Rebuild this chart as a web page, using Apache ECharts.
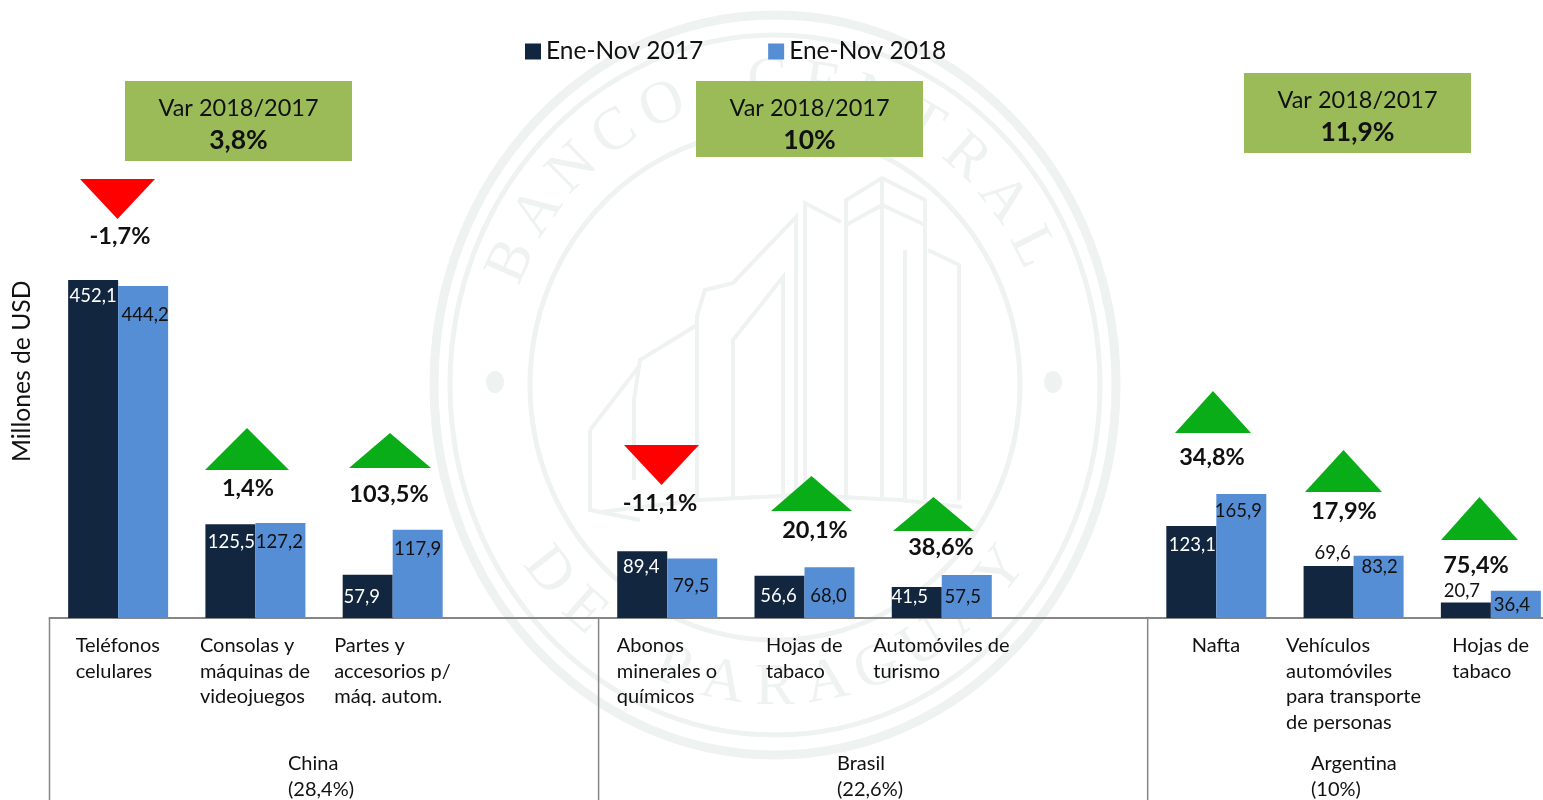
<!DOCTYPE html>
<html><head><meta charset="utf-8">
<style>html,body{margin:0;padding:0;background:#fff}#c{width:1543px;height:800px}</style>
<script src="https://cdn.jsdelivr.net/npm/echarts@6/dist/echarts.min.js"></script>
</head><body><div id="c"></div>
<script>
const categories = ['Teléfonos\ncelulares','Consolas y\nmáquinas de\nvideojuegos','Partes y\naccesorios p/\nmáq. autom.','',
  'Abonos\nminerales o\nquímicos','Hojas de\ntabaco','Automóviles de\nturismo','',
  'Nafta','Vehículos\nautomóviles\npara transporte\nde personas','Hojas de\ntabaco'];
const values2017 = [452.1,125.5,57.9,null,89.4,56.6,41.5,null,123.1,69.6,20.7];
const values2018 = [444.2,127.2,117.9,null,79.5,68.0,57.5,null,165.9,83.2,36.4];
const seriesNames = ['Ene-Nov 2017','Ene-Nov 2018'];
const groupNames = ['China\n(28,4%)','Brasil\n(22,6%)','Argentina\n(10%)'];
const groupSpans = [[0,4],[4,8],[8,11]];
const varTitle = 'Var 2018/2017';
const varValues = ['3,8%','10%','11,9%'];
const changeLabels = ['-1,7%','1,4%','103,5%','-11,1%','20,1%','38,6%','34,8%','17,9%','75,4%'];

/* layout (pixels / styling only) */
const FONT='Lato', DARK='#132640', BLUE='#558ED5', GREEN='#09AD17', RED='#FF0000', WM='#EEF2F1', AXIS='#868686';
const GL=49.5, GW=1510, SLOT=GW/11, BASE=618, YMAX=660, GTOP=BASE-YMAX*0.7476;
const varBoxes=[[125,81,227,80],[696,81,227,76],[1244,73,227,80]];
const groupLabelX=[288,837,1311];
const arrows=[ // x0,x1,yBase,yTip,textX,textY
 [80,155,179,219,120,236],[205,289,470,428,248,488],[349,431,468,433,389,494],
 [624,699,445,485,660,503],[771,852,511,476,815,530],[893,974,531,497,941,547],
 [1175,1251,433,391,1212,457],[1305,1382,492,450,1344,511],[1441,1518,540,497,1476,565]];
const off17=[[0,2],[1,3],[-6,8],null,[-1,1],[-1,6],[-7,-4],null,[1,5],[4,2],[-4,3]];
const off18=[[2,15],[-1,5],[0,5],null,[-1,13],[-1,14],[-4,8],null,[-3,3],[1,-3],[-4,0]];
const outsideTop=[9,10];

const mctx=document.createElement('canvas').getContext('2d');
function blockWidth(t,size){mctx.font=size+'px '+FONT;return Math.ceil(Math.max(...t.split('\n').map(s=>mctx.measureText(s).width)));}
const rich={};categories.forEach((c,i)=>{rich['w'+i]={width:blockWidth(c,20),align:'left',fontFamily:FONT,fontSize:20,lineHeight:25.5,color:'#111'};});

function fmt(v){return v.toFixed(1).replace('.',',');}
function barData(vals,offs,colorIn,dark){return vals.map((v,i)=>{
  if(v==null)return null;
  const out=dark&&outsideTop.includes(i);
  return {value:v,label:{position:out?'top':'insideTop',offset:offs[i],color:out?'#111':colorIn}};
});}

const g=[];
// watermark
[[341,370,9],[325,350,5],[245,255,5]].forEach(r=>g.push({type:'ellipse',z:-5,silent:true,shape:{cx:775,cy:385,rx:r[0],ry:r[1]},style:{fill:'none',stroke:WM,lineWidth:r[2]}}));
[495,1053].forEach(x=>g.push({type:'ellipse',z:-5,silent:true,shape:{cx:x,cy:382,rx:9,ry:11},style:{fill:WM}}));
function wmText(str,a0,a1,bottom){const n=str.length;[...str].forEach((ch,i)=>{
  const a=(a0+(a1-a0)*i/(n-1))*Math.PI/180;
  const x=775+288*Math.sin(a), y=385-303*Math.cos(a);
  g.push({type:'text',z:-5,silent:true,x:x,y:y,rotation:bottom?-(a-Math.PI):-a,style:{text:ch,x:0,y:0,fill:WM,font:'60px "Liberation Serif"',align:'center',verticalAlign:'middle'}});
});}
wmText('BANCO CENTRAL',-66,63,false);
wmText('DE PARAGUAY',-128,-232,true);
[[[846,500],[846,200],[882,178],[925,200],[925,500]],[[882,178],[882,500]],[[846,225],[882,205],[925,225]],
 [[805,500],[805,203],[841,222]],[[796,500],[796,217],[733,283],[705,290],[697,316],[697,500]],
 [[783,500],[783,277],[733,340],[733,500]],[[928,250],[959,265],[959,500]],[[905,250],[905,500]],
 [[697,325],[640,360],[634,400],[634,480]],[[590,430],[590,510],[640,520]],[[590,430],[640,365]],
 [[600,512],[700,500],[800,495],[900,500],[962,507]]].forEach(p=>g.push({type:'polyline',z:-5,silent:true,shape:{points:p},style:{fill:'none',stroke:WM,lineWidth:4}}));
// var boxes
varBoxes.forEach((b,i)=>{
  g.push({type:'rect',z:20,shape:{x:b[0],y:b[1],width:b[2],height:b[3]},style:{fill:'#9BBB59'}});
  g.push({type:'text',z:21,x:b[0]+b[2]/2,y:b[1]+27,style:{text:varTitle,font:'23.5px '+FONT,fill:'#111',align:'center',verticalAlign:'middle'}});
  g.push({type:'text',z:21,x:b[0]+b[2]/2,y:b[1]+59.5,style:{text:varValues[i],font:'bold 26.5px '+FONT,fill:'#111',align:'center',verticalAlign:'middle'}});
});
// change arrows
arrows.forEach((a,i)=>{
  g.push({type:'polygon',z:15,shape:{points:[[a[0],a[2]],[a[1],a[2]],[(a[0]+a[1])/2,a[3]]]},style:{fill:a[3]>a[2]?RED:GREEN}});
  g.push({type:'text',z:16,x:a[4],y:a[5]+0.5,style:{text:changeLabels[i],font:'bold 23.5px '+FONT,fill:'#111',align:'center',verticalAlign:'middle'}});
});
// separators and group labels
groupSpans.forEach((s,i)=>{
  const x=GL+SLOT*s[0];
  g.push({type:'line',z:5,shape:{x1:x,y1:BASE,x2:x,y2:800},style:{stroke:AXIS,lineWidth:1.5}});
  g.push({type:'text',z:5,x:groupLabelX[i],y:751,style:{text:groupNames[i],font:'20px '+FONT,fill:'#111',lineHeight:25.5,align:'left',verticalAlign:'top'}});
});

const common={type:'bar',barWidth:50,barGap:0,animation:false};
const labelBase={show:true,formatter:p=>fmt(p.value),fontFamily:FONT,fontSize:18.5};
echarts.init(document.getElementById('c'),null,{renderer:'canvas'}).setOption({
  animation:false,
  textStyle:{fontFamily:FONT},
  legend:{left:520,top:34,itemWidth:16,itemHeight:16,itemGap:65,icon:'rect',data:seriesNames,
    textStyle:{fontFamily:FONT,fontSize:24.5,color:'#111'},selectedMode:false},
  grid:{left:GL,width:GW,top:GTOP,height:BASE-GTOP,outerBoundsMode:'none'},
  xAxis:{type:'category',data:categories,axisTick:{show:false},
    axisLine:{lineStyle:{color:AXIS,width:2}},
    axisLabel:{interval:0,margin:15,hideOverlap:false,rich,
      formatter:(v,i)=>v?v.split('\n').map(s=>'{w'+i+'|'+s+'}').join('\n'):''}},
  yAxis:{type:'value',min:0,max:YMAX,name:'Millones de USD',nameLocation:'middle',nameGap:15,
    nameTextStyle:{fontFamily:FONT,fontSize:24.7,color:'#111'},
    axisLine:{show:false},axisTick:{show:false},axisLabel:{show:false},splitLine:{show:false}},
  series:[
    {...common,name:seriesNames[0],itemStyle:{color:DARK},label:{...labelBase},data:barData(values2017,off17,'#fff',true)},
    {...common,name:seriesNames[1],itemStyle:{color:BLUE},label:{...labelBase},data:barData(values2018,off18,'#111',false)}
  ],
  graphic:{elements:g}
});
</script></body></html>
